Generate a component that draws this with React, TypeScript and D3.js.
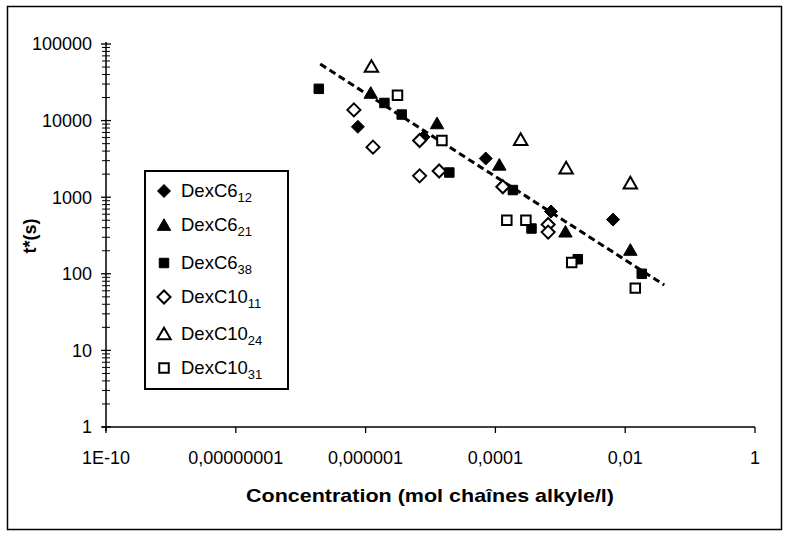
import React from "react";
import * as d3 from "d3";

// ---- data ----
const seriesNames = ["DexC6", "DexC6", "DexC6", "DexC10", "DexC10", "DexC10"];
const seriesSubs = ["12", "21", "38", "11", "24", "31"];
const seriesShapes = ["diamond", "triangle", "square", "diamond", "triangle", "square"];
const seriesFilled = [true, true, true, false, false, false];

const c612X = [7.6e-7, 7.8e-6, 7.1e-5, 7.2e-4, 6.5e-3];
const c612Y = [8300, 6100, 3200, 650, 510];
const c621X = [1.2e-6, 1.26e-5, 1.15e-4, 1.2e-3, 1.2e-2];
const c621Y = [23000, 9200, 2650, 355, 205];
const c638X = [1.9e-7, 1.95e-6, 3.6e-6, 1.95e-5, 1.86e-4, 3.6e-4, 1.86e-3, 1.8e-2];
const c638Y = [26000, 17000, 12000, 2100, 1240, 390, 155, 100];
const c1011X = [6.6e-7, 1.3e-6, 6.8e-6, 6.8e-6, 1.36e-5, 1.3e-4, 6.5e-4, 6.5e-4];
const c1011Y = [13800, 4500, 1900, 5500, 2200, 1370, 440, 350];
const c1024X = [1.23e-6, 2.45e-4, 1.23e-3, 1.2e-2];
const c1024Y = [51000, 5650, 2400, 1530];
const c1031X = [3.1e-6, 1.5e-5, 1.5e-4, 2.95e-4, 1.5e-3, 1.43e-2];
const c1031Y = [21500, 5500, 500, 500, 140, 65];

const seriesX = [c612X, c621X, c638X, c1011X, c1024X, c1031X];
const seriesY = [c612Y, c621Y, c638Y, c1011Y, c1024Y, c1031Y];

// power-law trend line y = a * x^b
const trendA = 12.4;
const trendB = -0.544;
const trendRange = [2e-7, 0.04];

const xTickValues = [1e-10, 1e-8, 1e-6, 1e-4, 1e-2, 1];
const xTickLabels = ["1E-10", "0,00000001", "0,000001", "0,0001", "0,01", "1"];
const yTickValues = [1, 10, 100, 1000, 10000, 100000];
const yTickLabels = ["1", "10", "100", "1000", "10000", "100000"];

const xTitle = "Concentration (mol chaînes alkyle/l)";
const yTitle = "t*(s)";

const FONT = "'Liberation Sans', Arial, sans-serif";

const diamondPath = "M0,-6.5L6.5,0L0,6.5L-6.5,0Z";

function markerPath(shape: string) {
  if (shape === "diamond") return diamondPath;
  if (shape === "triangle") return d3.symbol(d3.symbolTriangle, 78)()!;
  return d3.symbol(d3.symbolSquare, 90)()!;
}

function Marker({ shape, filled, x, y }: { shape: string; filled: boolean; x: number; y: number }) {
  const dy = shape === "triangle" ? 1.5 : 0;
  return (
    <path
      d={markerPath(shape)}
      transform={`translate(${x},${y + dy})`}
      fill={filled ? "#000" : "#fff"}
      stroke="#000"
      strokeWidth={filled ? 1 : 2}
      strokeLinejoin="miter"
    />
  );
}

export default function App() {
  const W = 787;
  const H = 534;
  const x = d3.scaleLog().domain([1e-10, 1]).range([106, 755]);
  const y = d3.scaleLog().domain([1, 100000]).range([427, 44]);

  // minor y ticks
  const yMinor: number[] = [];
  for (let e = 0; e < 5; e++) for (let m = 2; m <= 9; m++) yMinor.push(m * Math.pow(10, e));

  const trendPts = d3.range(0, 41).map((i) => {
    const lx = Math.log10(trendRange[0]) + (i / 40) * (Math.log10(trendRange[1]) - Math.log10(trendRange[0]));
    const xv = Math.pow(10, lx);
    return [xv, trendA * Math.pow(xv, trendB)] as [number, number];
  });
  const line = d3
    .line<[number, number]>()
    .x((d) => x(d[0]))
    .y((d) => y(d[1]));

  const legendRowsY = [191, 225, 263, 297, 334, 368];

  return (
    <svg
      width={W}
      height={H}
      style={{ position: "absolute", left: 0, top: 0, background: "#fff" }}
      fontFamily={FONT}
    >
      <rect x={0} y={0} width={W} height={H} fill="#fff" />
      {/* outer border */}
      <rect x={7.5} y={6.5} width={774} height={523} fill="none" stroke="#000" strokeWidth={1.5} />

      {/* y axis */}
      <line x1={x(1e-10)} x2={x(1e-10)} y1={y(100000) - 2} y2={y(1) + 4} stroke="#000" strokeWidth={1.5} />
      {yTickValues.map((v) => (
        <line key={"ym" + v} x1={x(1e-10) - 5} x2={x(1e-10) + 5} y1={y(v)} y2={y(v)} stroke="#000" strokeWidth={1.3} />
      ))}
      {yMinor.map((v) => (
        <line key={"yn" + v} x1={x(1e-10) - 4} x2={x(1e-10) + 4} y1={y(v)} y2={y(v)} stroke="#000" strokeWidth={1} />
      ))}
      {yTickValues.map((v, i) => (
        <text key={"yl" + v} x={92} y={y(v)} dy="0.35em" textAnchor="end" fontSize={18} fill="#000">
          {yTickLabels[i]}
        </text>
      ))}

      {/* x axis */}
      <line x1={x(1e-10) - 4} x2={x(1)} y1={y(1)} y2={y(1)} stroke="#000" strokeWidth={1.5} />
      {xTickValues.map((v) => (
        <line key={"xt" + v} x1={x(v)} x2={x(v)} y1={y(1)} y2={y(1) + 6} stroke="#000" strokeWidth={1.3} />
      ))}
      {xTickValues.map((v, i) => (
        <text key={"xl" + v} x={x(v)} y={464} textAnchor="middle" fontSize={18} fill="#000">
          {xTickLabels[i]}
        </text>
      ))}

      {/* titles */}
      <text
        x={430}
        y={502}
        textAnchor="middle"
        fontSize={19}
        fontWeight="bold"
        fill="#000"
        textLength={368}
        lengthAdjust="spacingAndGlyphs"
      >
        {xTitle}
      </text>
      <text
        transform={`translate(36,236) rotate(-90)`}
        textAnchor="middle"
        fontSize={18}
        fontWeight="bold"
        fill="#000"
      >
        {yTitle}
      </text>

      {/* trend line */}
      <path d={line(trendPts)!} fill="none" stroke="#000" strokeWidth={3} strokeDasharray="7,4" />

      {/* markers */}
      {seriesX.map((xs, si) =>
        xs.map((xv, pi) => (
          <Marker
            key={`m${si}-${pi}`}
            shape={seriesShapes[si]}
            filled={seriesFilled[si]}
            x={x(xv)}
            y={y(seriesY[si][pi])}
          />
        ))
      )}

      {/* legend */}
      <rect x={145} y={171} width={143} height={218} fill="#fff" stroke="#000" strokeWidth={2} />
      {seriesNames.map((name, i) => (
        <g key={"lg" + i}>
          <Marker shape={seriesShapes[i]} filled={seriesFilled[i]} x={164} y={legendRowsY[i]} />
          <text x={181} y={legendRowsY[i]} dy="0.35em" fontSize={18.5} fill="#000">
            {name}
            <tspan fontSize={13} dy={5}>
              {seriesSubs[i]}
            </tspan>
          </text>
        </g>
      ))}
    </svg>
  );
}
